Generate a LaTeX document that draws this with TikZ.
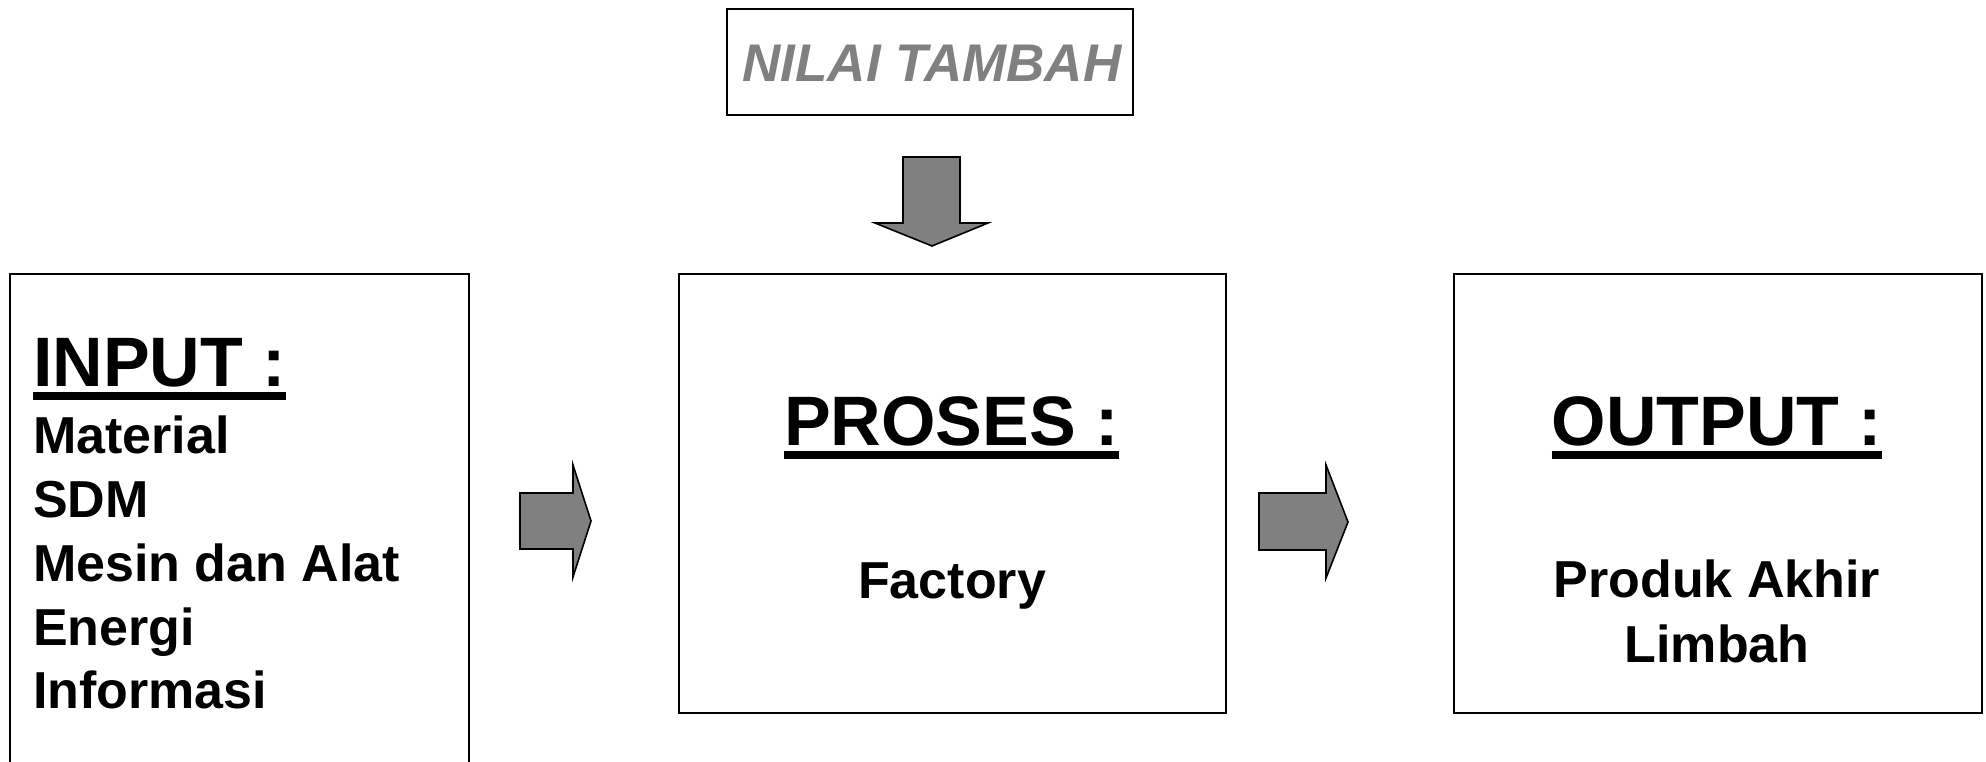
\documentclass[tikz,border=0pt]{standalone}
\usepackage{fontspec}
\setmainfont{Liberation Sans}
\definecolor{arrowgray}{HTML}{808080}
\definecolor{textgray}{HTML}{808080}
\begin{document}
\begin{tikzpicture}[x=1pt,y=-1pt,
  box/.style={draw=black,line width=1.6pt,rectangle,inner sep=0pt,anchor=north west},
  hdr/.style={inner sep=0pt,font=\bfseries\fontsize{70}{80}\selectfont},
  body/.style={inner sep=0pt,font=\bfseries\fontsize{52}{60}\selectfont},
  blockarrow/.style={fill=arrowgray,draw=black,line width=1.6pt,line join=miter},
  uline/.style={line width=8pt}]
\useasboundingbox (0,0) rectangle (1986,761);
% boxes
\node[box,minimum width=406pt,minimum height=106pt] (nilai) at (726,8) {};
\node[box,minimum width=459pt,minimum height=540pt] (input) at (9,273) {};
\node[box,minimum width=547pt,minimum height=439pt] (proses) at (678,273) {};
\node[box,minimum width=528pt,minimum height=439pt] (output) at (1453,273) {};
% NILAI TAMBAH
\node[inner sep=0pt,anchor=base,text=textgray,font=\bfseries\itshape\fontsize{53}{60}\selectfont] (nilaitxt) at (932,81) {NILAI TAMBAH};
% INPUT
\node[hdr,anchor=base west] (inhdr) at (33,386) {INPUT :};
\draw[uline] ([yshift=-10pt]inhdr.base west) -- ([yshift=-10pt]inhdr.base east);
\node[body,anchor=base west] (in1) at (33,453) {Material};
\node[body,anchor=base west] (in2) at (33,517) {SDM};
\node[body,anchor=base west] (in3) at (33,581) {Mesin dan Alat};
\node[body,anchor=base west] (in4) at (33,645) {Energi};
\node[body,anchor=base west] (in5) at (33,708) {Informasi};
% PROSES
\node[hdr,anchor=base] (prhdr) at (951.5,445) {PROSES :};
\draw[uline] ([yshift=-10pt]prhdr.base west) -- ([yshift=-10pt]prhdr.base east);
\node[body,anchor=base] (prtxt) at (952,598) {Factory};
% OUTPUT
\node[hdr,anchor=base] (outhdr) at (1717,445) {OUTPUT :};
\draw[uline] ([yshift=-10pt]outhdr.base west) -- ([yshift=-10pt]outhdr.base east);
\node[body,anchor=base] (out1) at (1717,597) {Produk Akhir};
\node[body,anchor=base] (out2) at (1717,662) {Limbah};
% block arrows
\draw[blockarrow] (903,157) -- (960,157) -- (960,223) -- (988,223) -- (932,246) -- (875,223) -- (903,223) -- cycle;
\draw[blockarrow] (520,493) -- (573,493) -- (573,465) -- (591,521) -- (573,577) -- (573,549) -- (520,549) -- cycle;
\draw[blockarrow] (1259,493) -- (1326,493) -- (1326,465) -- (1348,522) -- (1326,578) -- (1326,550) -- (1259,550) -- cycle;
\end{tikzpicture}
\end{document}
